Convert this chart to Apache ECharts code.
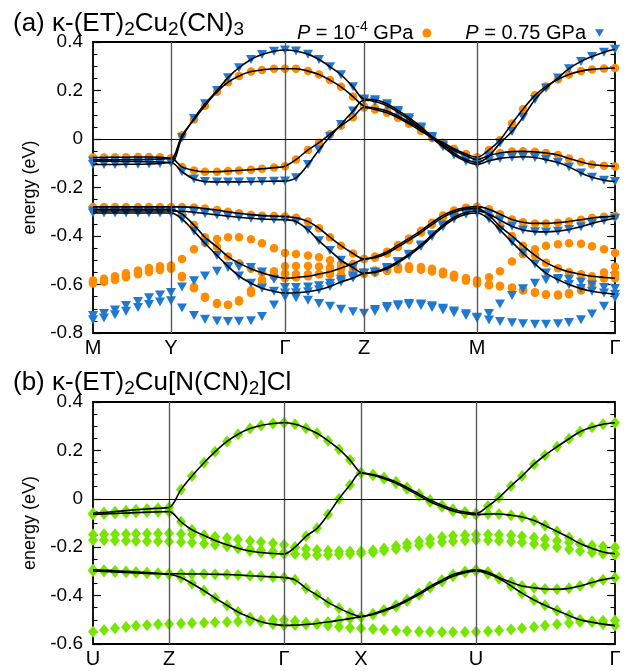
<!DOCTYPE html>
<html><head><meta charset="utf-8">
<script src="https://cdn.jsdelivr.net/npm/echarts@6/dist/echarts.min.js"></script>
<style>html,body{margin:0;padding:0;background:#fff}#c{width:631px;height:671px}</style>
</head><body><div id="c"></div>
<script>
// ---------- Panel (a): κ-(ET)2Cu2(CN)3 ----------
const kA = [0,11,22,33,45,56,67,78, 89,101,112,124,135,146,158,169,181,192, 203,215,226,237,248,260,271, 282,294,305,316,328,339,350,361,373,384, 396,407,419,430,442,453,465,476,488,499,511,522];
const symTicksA = [0,78,192,271,384,522];
const symLabelsA = ['M','Y','Γ','Z','M','Γ'];

// P = 1e-4 GPa (orange)
const O1 = [-0.076,-0.076,-0.075,-0.075,-0.074,-0.074,-0.075,-0.08, 0.015,0.08,0.137,0.195,0.234,0.26,0.278,0.285,0.29,0.29, 0.29,0.28,0.266,0.243,0.215,0.175,0.135, 0.128,0.115,0.095,0.07,0.04,0.01,-0.015,-0.04,-0.062,-0.075, -0.045,-0.004,0.064,0.123,0.18,0.217,0.246,0.266,0.28,0.287,0.291,0.293];
const O2 = [-0.086,-0.086,-0.086,-0.085,-0.085,-0.084,-0.083,-0.08, -0.115,-0.13,-0.135,-0.135,-0.132,-0.13,-0.127,-0.123,-0.118,-0.112, -0.085,-0.045,-0.015,0.02,0.055,0.09,0.13, 0.122,0.108,0.088,0.063,0.033,0.004,-0.022,-0.048,-0.068,-0.085, -0.068,-0.058,-0.052,-0.051,-0.053,-0.058,-0.066,-0.08,-0.095,-0.105,-0.11,-0.113];
const O3 = [-0.28,-0.28,-0.28,-0.28,-0.28,-0.28,-0.28,-0.28, -0.28,-0.282,-0.287,-0.293,-0.3,-0.306,-0.312,-0.316,-0.318,-0.32, -0.325,-0.34,-0.368,-0.405,-0.44,-0.472,-0.495, -0.485,-0.465,-0.437,-0.41,-0.378,-0.345,-0.315,-0.295,-0.283,-0.279, -0.29,-0.31,-0.332,-0.343,-0.348,-0.348,-0.345,-0.34,-0.333,-0.326,-0.321,-0.318];
const O4 = [-0.29,-0.29,-0.29,-0.29,-0.29,-0.29,-0.29,-0.29, -0.31,-0.355,-0.405,-0.445,-0.485,-0.512,-0.535,-0.552,-0.566,-0.574, -0.571,-0.566,-0.557,-0.547,-0.532,-0.515,-0.495, -0.49,-0.472,-0.445,-0.418,-0.386,-0.353,-0.323,-0.302,-0.29,-0.287, -0.315,-0.36,-0.4,-0.44,-0.48,-0.51,-0.533,-0.548,-0.558,-0.566,-0.571,-0.574];
const O5 = [-0.583,-0.576,-0.566,-0.554,-0.542,-0.532,-0.525,-0.522, -0.495,-0.455,-0.428,-0.412,-0.405,-0.405,-0.413,-0.43,-0.45,-0.47, -0.474,-0.48,-0.488,-0.5,-0.515,-0.535,-0.55, -0.542,-0.533,-0.527,-0.525,-0.528,-0.535,-0.547,-0.56,-0.573,-0.583, -0.57,-0.545,-0.505,-0.475,-0.455,-0.44,-0.434,-0.43,-0.432,-0.442,-0.455,-0.47];
const O6 = [-0.59,-0.584,-0.575,-0.564,-0.552,-0.542,-0.535,-0.53, -0.565,-0.61,-0.65,-0.676,-0.683,-0.665,-0.625,-0.58,-0.545,-0.525, -0.524,-0.524,-0.526,-0.53,-0.537,-0.545,-0.553, -0.547,-0.538,-0.532,-0.53,-0.533,-0.54,-0.552,-0.565,-0.578,-0.59, -0.6,-0.605,-0.612,-0.622,-0.632,-0.64,-0.641,-0.635,-0.615,-0.582,-0.55,-0.527];
const O7 = [-0.596,-0.59,-0.581,-0.57,-0.558,-0.548,-0.54,-0.535, -0.57,-0.615,-0.655,-0.68,-0.685,-0.67,-0.635,-0.595,-0.565,-0.555, -0.557,-0.558,-0.559,-0.56,-0.56,-0.559,-0.557, -0.552,-0.544,-0.538,-0.536,-0.539,-0.546,-0.558,-0.571,-0.584,-0.596, -0.603,-0.608,-0.615,-0.625,-0.634,-0.642,-0.645,-0.64,-0.625,-0.6,-0.575,-0.555];

// P = 0.75 GPa (blue)
const B1 = [-0.092,-0.092,-0.092,-0.093,-0.093,-0.094,-0.095,-0.097, 0.005,0.085,0.145,0.2,0.253,0.294,0.328,0.348,0.362,0.367, 0.363,0.35,0.328,0.298,0.265,0.215,0.165, 0.162,0.145,0.118,0.088,0.05,0.01,-0.025,-0.058,-0.085,-0.097, -0.07,-0.017,0.031,0.09,0.163,0.21,0.252,0.29,0.32,0.34,0.358,0.37];
const B2 = [-0.105,-0.105,-0.105,-0.104,-0.104,-0.103,-0.101,-0.097, -0.135,-0.165,-0.175,-0.177,-0.177,-0.177,-0.176,-0.175,-0.174,-0.173, -0.16,-0.105,-0.045,0.01,0.06,0.115,0.16, 0.155,0.137,0.11,0.08,0.043,0.004,-0.032,-0.066,-0.092,-0.105, -0.09,-0.08,-0.075,-0.073,-0.076,-0.085,-0.097,-0.115,-0.14,-0.158,-0.17,-0.175];
const B3 = [-0.297,-0.297,-0.297,-0.297,-0.297,-0.297,-0.297,-0.297, -0.298,-0.302,-0.307,-0.313,-0.318,-0.323,-0.327,-0.33,-0.332,-0.333, -0.34,-0.375,-0.42,-0.46,-0.5,-0.53,-0.554, -0.548,-0.53,-0.505,-0.475,-0.437,-0.395,-0.355,-0.322,-0.303,-0.297, -0.31,-0.334,-0.36,-0.375,-0.382,-0.383,-0.38,-0.373,-0.362,-0.348,-0.336,-0.327];
const B4 = [-0.305,-0.305,-0.305,-0.305,-0.305,-0.305,-0.305,-0.305, -0.33,-0.38,-0.43,-0.48,-0.525,-0.565,-0.595,-0.615,-0.628,-0.635, -0.634,-0.63,-0.622,-0.608,-0.59,-0.573,-0.554, -0.55,-0.535,-0.51,-0.481,-0.443,-0.402,-0.362,-0.33,-0.31,-0.305, -0.33,-0.375,-0.425,-0.47,-0.515,-0.553,-0.58,-0.6,-0.617,-0.628,-0.635,-0.64];
const B5 = [-0.728,-0.72,-0.705,-0.687,-0.67,-0.655,-0.643,-0.633, -0.61,-0.585,-0.565,-0.545,-0.53,-0.527,-0.53,-0.548,-0.578,-0.612, -0.612,-0.61,-0.605,-0.595,-0.58,-0.565,-0.554, -0.703,-0.691,-0.683,-0.678,-0.68,-0.688,-0.698,-0.709,-0.721,-0.735, -0.72,-0.68,-0.645,-0.618,-0.595,-0.58,-0.575,-0.578,-0.59,-0.602,-0.612,-0.617];
const B6 = [-0.745,-0.738,-0.725,-0.71,-0.695,-0.682,-0.672,-0.667, -0.697,-0.728,-0.743,-0.75,-0.753,-0.752,-0.749,-0.732,-0.685,-0.65, -0.655,-0.665,-0.678,-0.69,-0.702,-0.712,-0.719, -0.71,-0.698,-0.69,-0.685,-0.687,-0.695,-0.705,-0.716,-0.728,-0.739, -0.746,-0.753,-0.758,-0.762,-0.764,-0.764,-0.762,-0.757,-0.745,-0.722,-0.69,-0.655];

// ---------- Panel (b): κ-(ET)2Cu[N(CN)2]Cl ----------
const kB = [0,11,22,33,43,54,65,76, 88,99,111,122,134,145,157,168,180,191, 202,213,224,235,246,257,268, 280,291,303,314,326,337,349,360,372,383, 395,406,418,429,441,452,464,476,487,499,510,522];
const symTicksB = [0,76,191,268,383,522];
const symLabelsB = ['U','Z','Γ','X','U','Γ'];

const G1 = [-0.06,-0.057,-0.053,-0.049,-0.045,-0.042,-0.039,-0.036, 0.038,0.094,0.149,0.194,0.237,0.267,0.29,0.303,0.311,0.314, 0.308,0.292,0.271,0.24,0.205,0.16,0.108, 0.1,0.088,0.07,0.047,0.02,-0.005,-0.027,-0.043,-0.055,-0.06, -0.03,0.005,0.053,0.094,0.143,0.18,0.215,0.248,0.277,0.296,0.308,0.314];
const G2 = [-0.065,-0.063,-0.061,-0.059,-0.057,-0.055,-0.054,-0.053, -0.095,-0.128,-0.152,-0.172,-0.19,-0.204,-0.216,-0.222,-0.226,-0.228, -0.2,-0.155,-0.122,-0.065,0.0,0.057,0.108, 0.097,0.083,0.064,0.04,0.013,-0.012,-0.033,-0.05,-0.061,-0.066, -0.063,-0.063,-0.068,-0.075,-0.09,-0.11,-0.135,-0.16,-0.185,-0.205,-0.22,-0.227];
const G3 = [-0.293,-0.295,-0.297,-0.3,-0.302,-0.305,-0.308,-0.31, -0.31,-0.311,-0.311,-0.312,-0.313,-0.315,-0.318,-0.32,-0.323,-0.325, -0.335,-0.37,-0.398,-0.428,-0.452,-0.473,-0.487, -0.475,-0.46,-0.44,-0.417,-0.39,-0.362,-0.336,-0.313,-0.3,-0.293, -0.302,-0.325,-0.345,-0.36,-0.368,-0.373,-0.374,-0.37,-0.36,-0.346,-0.334,-0.326];
const G4 = [-0.298,-0.3,-0.302,-0.304,-0.306,-0.308,-0.31,-0.312, -0.325,-0.35,-0.38,-0.41,-0.44,-0.468,-0.49,-0.508,-0.518,-0.523, -0.522,-0.519,-0.515,-0.509,-0.502,-0.495,-0.487, -0.478,-0.464,-0.445,-0.422,-0.396,-0.368,-0.342,-0.32,-0.305,-0.298, -0.31,-0.33,-0.36,-0.39,-0.418,-0.44,-0.462,-0.482,-0.5,-0.51,-0.518,-0.524];
const G5 = [-0.148,-0.147,-0.146,-0.145,-0.144,-0.143,-0.143,-0.143, -0.145,-0.148,-0.152,-0.157,-0.162,-0.168,-0.174,-0.179,-0.184,-0.19, -0.2,-0.207,-0.212,-0.215,-0.217,-0.218,-0.218, -0.213,-0.205,-0.195,-0.185,-0.175,-0.166,-0.158,-0.153,-0.15,-0.148, -0.148,-0.149,-0.151,-0.155,-0.16,-0.166,-0.173,-0.18,-0.187,-0.193,-0.197,-0.2];
const G6 = [-0.17,-0.171,-0.172,-0.173,-0.174,-0.175,-0.175,-0.176, -0.178,-0.181,-0.185,-0.19,-0.196,-0.202,-0.208,-0.213,-0.218,-0.222, -0.228,-0.232,-0.233,-0.232,-0.23,-0.228,-0.226, -0.222,-0.215,-0.207,-0.199,-0.192,-0.185,-0.179,-0.175,-0.172,-0.17, -0.171,-0.173,-0.176,-0.18,-0.186,-0.193,-0.2,-0.208,-0.216,-0.222,-0.227,-0.23];
const G7 = [-0.549,-0.542,-0.535,-0.53,-0.525,-0.521,-0.518,-0.517, -0.515,-0.513,-0.512,-0.51,-0.509,-0.507,-0.505,-0.503,-0.501,-0.5, -0.505,-0.512,-0.518,-0.524,-0.529,-0.533,-0.535, -0.538,-0.541,-0.544,-0.546,-0.548,-0.549,-0.55,-0.55,-0.55,-0.549, -0.547,-0.544,-0.54,-0.535,-0.53,-0.524,-0.518,-0.513,-0.509,-0.506,-0.504,-0.503];

// ---------- styling ----------
const FONT = '"Liberation Sans", Arial, Helvetica, sans-serif';
const ORANGE = '#ff8c00', BLUE = '#1f78d1', GREEN = '#76e600';
const TRI = 'path://M0,0L20,0L10,17Z';
const DIAM = 'diamond';

const chart = echarts.init(document.getElementById('c'), null, {renderer: 'canvas'});
const zip = (k, v) => k.map((x, i) => [x, v[i]]);
const yFmt = v => Math.abs(v) < 1e-9 ? '0' : v.toFixed(1);

function scatter(name, k, v, color, symbol, size, gi) {
  return {type: 'scatter', name, xAxisIndex: gi, yAxisIndex: gi * 2, data: zip(k, v),
    symbol, symbolSize: size, itemStyle: {color, opacity: 1}, z: 2, silent: true};
}
function fit(k, v, gi) {
  return {type: 'line', name: 'fit', xAxisIndex: gi, yAxisIndex: gi * 2, data: zip(k, v),
    smooth: 0.35, showSymbol: false, symbol: 'none',
    lineStyle: {color: '#000', width: 1.6}, z: 4, silent: true};
}
function guides(ticks, gi) {
  return {type: 'line', name: 'guide', xAxisIndex: gi, yAxisIndex: gi * 2, data: [], z: 1, silent: true,
    markLine: {silent: true, symbol: 'none', animation: false, label: {show: false},
      data: ticks.slice(1, -1).map(t => ({xAxis: t, lineStyle: {color: '#5a5a5a', width: 1.4, type: 'solid'}}))
        .concat([{yAxis: 0, lineStyle: {color: '#000', width: 1.1, type: 'solid'}}])}};
}
function xAxis(gi, ticks, labels) {
  return {type: 'value', gridIndex: gi, min: 0, max: 522,
    axisLine: {show: false}, axisTick: {show: false}, splitLine: {show: false},
    axisLabel: {show: true, customValues: ticks, margin: 5, color: '#000', fontSize: 20, fontFamily: FONT,
      formatter: v => labels[ticks.indexOf(v)]}};
}
function yAxes(gi, min, max) {
  const base = {type: 'value', gridIndex: gi, min, max, interval: 0.2,
    axisLine: {show: false}, splitLine: {show: false},
    axisTick: {show: true, inside: true, length: 8, lineStyle: {color: '#000', width: 1.2}},
    minorTick: {show: true, splitNumber: 4, length: 4.5, lineStyle: {color: '#000', width: 1.1}},
    minorSplitLine: {show: false}};
  return [
    Object.assign({}, base, {position: 'left', name: 'energy (eV)', nameLocation: 'middle', nameGap: 52,
      nameRotate: 90, nameTextStyle: {fontSize: 18, fontFamily: FONT, color: '#000'},
      axisLabel: {formatter: yFmt, margin: 10, color: '#000', fontSize: 19, fontFamily: FONT}}),
    Object.assign({}, base, {position: 'right', axisLabel: {show: false}})
  ];
}

const orangeBands = [O5, O6, O7, O1, O2, O3, O4];
const blueBands = [B5, B6, B1, B2, B3, B4];
const greenBands = [G5, G6, G7, G1, G2, G3, G4];

const series = [guides(symTicksA, 0), guides(symTicksB, 1)];
orangeBands.forEach(v => series.push(scatter('P1', kA, v, ORANGE, 'circle', 8.5, 0)));
blueBands.forEach(v => series.push(scatter('P2', kA, v, BLUE, TRI, [10, 9], 0)));
greenBands.forEach(v => series.push(scatter('G', kB, v, GREEN, DIAM, [10, 12], 1)));
[O1, O2, O3, O4, B1, B2, B3, B4].forEach(v => series.push(fit(kA, v, 0)));
[G1, G2, G3, G4].forEach(v => series.push(fit(kB, v, 1)));

const titleRich = {
  s: {fontSize: 19, fontFamily: FONT, color: '#000', padding: [12, 0, 0, 0]}
};
const legendText = {
  fontSize: 20, fontFamily: FONT, color: '#000', padding: [0, 4, 0, 0],
  rich: {i: {fontStyle: 'italic', fontSize: 20, fontFamily: FONT, color: '#000'},
         t: {fontSize: 20, fontFamily: FONT, color: '#000'},
         sup: {fontSize: 14, fontFamily: FONT, color: '#000', padding: [0, 0, 12, 0]}}
};
chart.setOption({
  animation: false,
  backgroundColor: '#fff',
  textStyle: {fontFamily: FONT},
  title: [
    {text: '(a) κ-(ET){s|2}Cu{s|2}(CN){s|3}', left: 13, top: 8, padding: 0,
      textStyle: {fontSize: 26, fontWeight: 'normal', fontFamily: FONT, color: '#000', rich: titleRich}},
    {text: '(b) κ-(ET){s|2}Cu[N(CN){s|2}]Cl', left: 13, top: 367, padding: 0,
      textStyle: {fontSize: 26, fontWeight: 'normal', fontFamily: FONT, color: '#000', rich: titleRich}}
  ],
  legend: {
    data: [{name: 'P1', icon: 'circle', textStyle: legendText}, {name: 'P2', icon: TRI, textStyle: legendText}],
    right: 22, top: 15, align: 'right', itemGap: 34, itemWidth: 9, itemHeight: 9,
    selectedMode: false,
    formatter: n => n === 'P1' ? '{i|P}{t| = 10}{sup|-4}{t| GPa}' : '{i|P}{t| = 0.75 GPa}',
    textStyle: legendText
  },
  grid: [
    {left: 93, top: 42, width: 522, height: 291, show: true, borderColor: '#000', borderWidth: 1.8, backgroundColor: 'transparent'},
    {left: 93, top: 402, width: 522, height: 242, show: true, borderColor: '#000', borderWidth: 1.8, backgroundColor: 'transparent'}
  ],
  xAxis: [xAxis(0, symTicksA, symLabelsA), xAxis(1, symTicksB, symLabelsB)],
  yAxis: yAxes(0, -0.8, 0.4).concat(yAxes(1, -0.6, 0.4)),
  series
});
</script></body></html>
